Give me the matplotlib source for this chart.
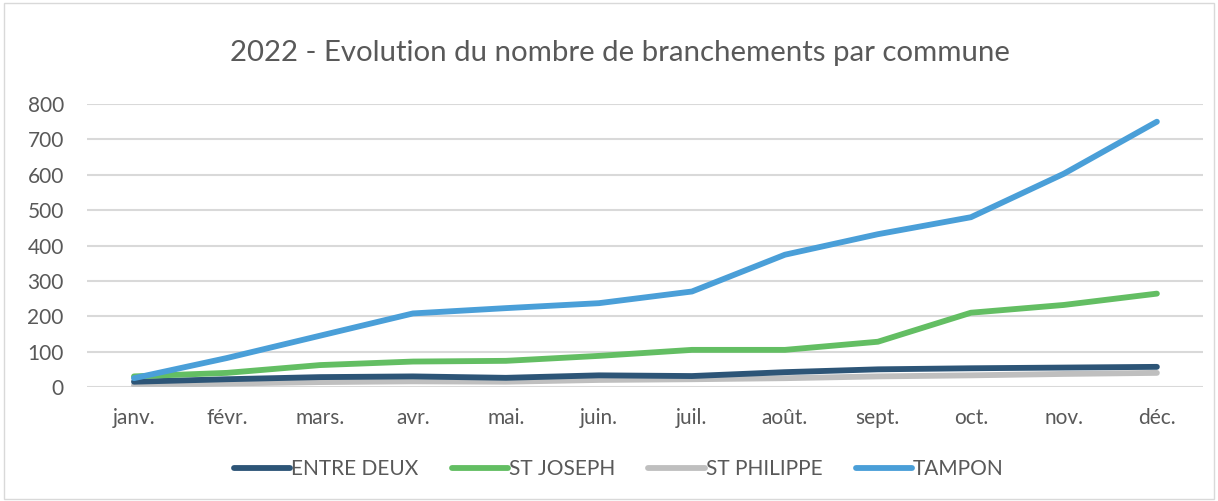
import matplotlib
matplotlib.use("Agg")
import matplotlib.pyplot as plt
from matplotlib.patches import Rectangle

months = ["janv.", "févr.", "mars.", "avr.", "mai.", "juin.", "juil.", "août.", "sept.", "oct.", "nov.", "déc."]
entre_deux = [15, 22, 28, 30, 26, 33, 31, 42, 50, 53, 55, 57]
st_joseph = [30, 40, 62, 72, 74, 88, 105, 105, 128, 210, 232, 264]
st_philippe = [5, 10, 14, 16, 15, 20, 22, 25, 30, 33, 37, 40]
tampon = [25, 82, 145, 208, 223, 237, 270, 374, 432, 480, 603, 750]
yticks = [0, 100, 200, 300, 400, 500, 600, 700, 800]

plt.rcParams['font.family'] = ['Lato', 'DejaVu Sans']
txt = "#595959"

fig = plt.figure(figsize=(12.18, 5.01), dpi=100)
fig.patches.append(Rectangle((0.003, 0.004), 0.994, 0.99, transform=fig.transFigure,
                             fill=False, edgecolor="#D9D9D9", linewidth=1))
ax = fig.add_axes([0.0718, 0.2275, 0.9162, 0.5649])

x = list(range(len(months)))
series = [("ENTRE DEUX", entre_deux, "#2D5577"),
          ("ST JOSEPH", st_joseph, "#63BE63"),
          ("ST PHILIPPE", st_philippe, "#BFBFBF"),
          ("TAMPON", tampon, "#4A9FD8")]
lines = []
for name, vals, col in series:
    l, = ax.plot(x, vals, color=col, linewidth=4.2, solid_capstyle="round",
                 solid_joinstyle="round", label=name)
    lines.append(l)
lines[2].set_zorder(2.0)
lines[0].set_zorder(2.1)
lines[1].set_zorder(2.2)
lines[3].set_zorder(2.3)

ax.set_xlim(-0.5, 11.5)
ax.set_ylim(0, 800)
ax.set_yticks(yticks)
ax.set_xticks(x)
ax.set_xticklabels(months)
ax.grid(axis="y", color="#D9D9D9", linewidth=1.5)
ax.set_axisbelow(True)
for s in ax.spines.values():
    s.set_visible(False)
ax.tick_params(axis="both", length=0, labelsize=15, colors=txt)
ax.tick_params(axis="x", pad=15)
ax.tick_params(axis="y", pad=17)

fig.text(0.509, 0.895, "2022 - Evolution du nombre de branchements par commune",
         ha="center", va="center", fontsize=21.2, color=txt)

leg = fig.legend(handles=lines, loc="center", bbox_to_anchor=(0.508, 0.063), ncol=4,
                 frameon=False, fontsize=15, handlelength=2.7, handletextpad=0.05,
                 columnspacing=1.6)
for t in leg.get_texts():
    t.set_color(txt)

fig.savefig("out.png", dpi=100)
